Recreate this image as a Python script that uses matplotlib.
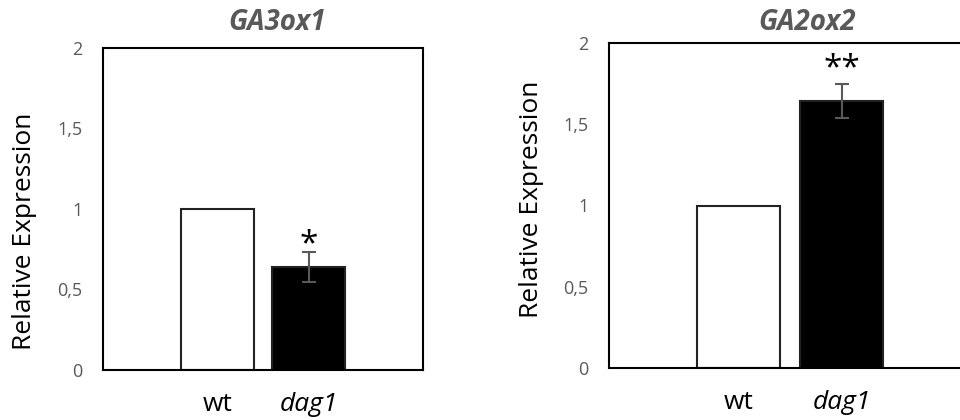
import numpy as np
import matplotlib
matplotlib.use("Agg")
import matplotlib.pyplot as plt

plt.rcParams['font.family'] = ['Open Sans', 'DejaVu Sans']

genes = ["GA3ox1", "GA2ox2"]
genotypes = ["wt", "dag1"]
values = [[1.0, 0.64], [1.0, 1.645]]
errors = [[0.0, 0.095], [0.0, 0.105]]
stars = ["*", "**"]

bar_colors = ["white", "black"]
gray = "#595959"

W, H = 960, 420
fig = plt.figure(figsize=(9.6, 4.2), dpi=100)

# axes boxes in pixels: left, top, right, bottom
boxes = [(103, 48, 423, 370), (609, 43, 971, 368)]
title_x = [277, 807]
ylab_coords = [(-0.205, 0.43), (-0.18, 0.52)]
star_off = [-0.06, -0.01]

for i, gene in enumerate(genes):
    l, t, r, b = boxes[i]
    ax = fig.add_axes([l / W, 1 - b / H, (r - l) / W, (b - t) / H])
    x = np.arange(len(genotypes))
    ax.bar(x, values[i], width=0.8, color=bar_colors, edgecolor="#222222",
           linewidth=1.5, zorder=2)
    ax.errorbar(x[1], values[i][1], yerr=errors[i][1], fmt="none",
                ecolor=gray, elinewidth=1.5, capsize=5, capthick=1.5, zorder=3)
    ax.text(x[1], values[i][1] + errors[i][1] + star_off[i], stars[i],
            ha="center", va="bottom", fontsize=24, color="black")

    ax.set_xlim(-1.25, 2.25)
    ax.set_ylim(0, 2)
    ax.set_yticks([0, 0.5, 1, 1.5, 2])
    ax.set_yticklabels(["0", "0,5", "1", "1,5", "2"])
    ax.tick_params(axis="y", length=0, pad=15, labelsize=13, labelcolor=gray)
    ax.set_xticks(x)
    ax.set_xticklabels(genotypes)
    ax.get_xticklabels()[1].set_style("italic")
    ax.tick_params(axis="x", length=0, pad=16, labelsize=19, labelcolor="black")
    for s in ax.spines.values():
        s.set_linewidth(1.5)
        s.set_color("black")

    ax.set_ylabel("Relative Expression", fontsize=19)
    ax.yaxis.set_label_coords(*ylab_coords[i])

    fig.text(title_x[i] / W, 1 - 23 / H, gene, ha="center", va="center",
             fontsize=20, fontweight="bold", fontstyle="italic", color=gray)

fig.savefig("out.png", dpi=100)
